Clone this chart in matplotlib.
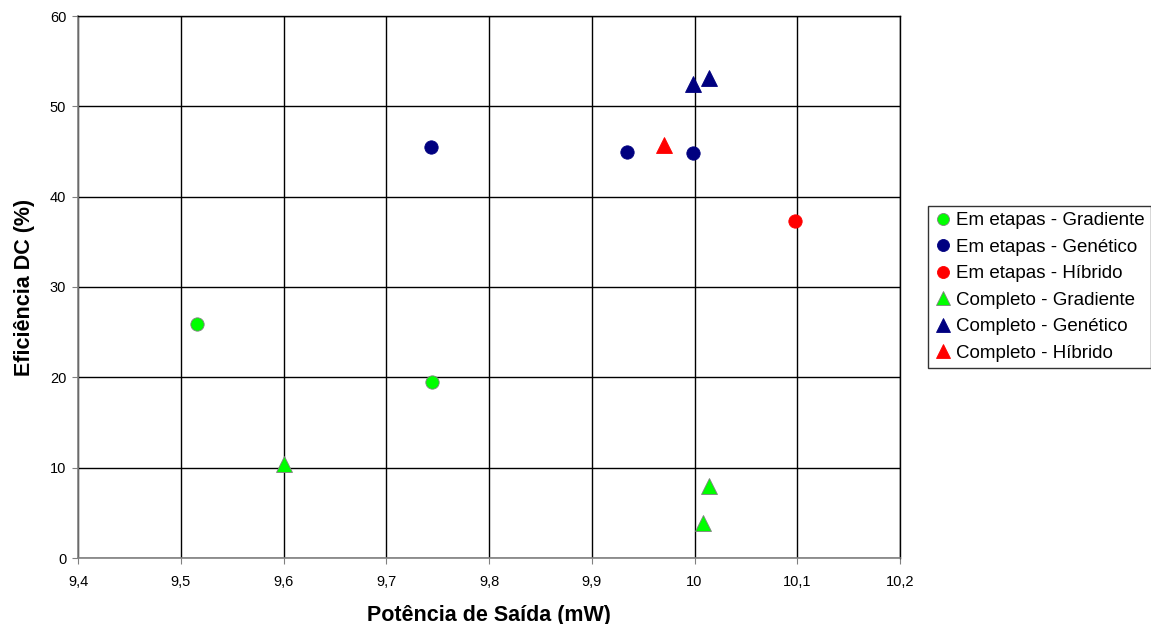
import matplotlib
matplotlib.use("Agg")
import matplotlib.pyplot as plt
from matplotlib.ticker import FuncFormatter

plt.rcParams["font.family"] = ["Liberation Sans", "DejaVu Sans"]

# series: (x = potência de saída em mW, y = eficiência DC em %)
etapas_grad_x = [9.516, 9.745]
etapas_grad_y = [25.9, 19.5]
etapas_gen_x = [9.744, 9.934, 9.999]
etapas_gen_y = [45.5, 45.0, 44.8]
etapas_hib_x = [10.098]
etapas_hib_y = [37.3]
comp_grad_x = [9.600, 10.014, 10.008]
comp_grad_y = [10.4, 8.0, 3.9]
comp_gen_x = [9.999, 10.014]
comp_gen_y = [52.5, 53.1]
comp_hib_x = [9.970]
comp_hib_y = [45.7]

series = [
    ("Em etapas - Gradiente", etapas_grad_x, etapas_grad_y, "o", "#00FF00"),
    ("Em etapas - Genético", etapas_gen_x, etapas_gen_y, "o", "#000080"),
    ("Em etapas - Híbrido", etapas_hib_x, etapas_hib_y, "o", "#FF0000"),
    ("Completo - Gradiente", comp_grad_x, comp_grad_y, "^", "#00FF00"),
    ("Completo - Genético", comp_gen_x, comp_gen_y, "^", "#000080"),
    ("Completo - Híbrido", comp_hib_x, comp_hib_y, "^", "#FF0000"),
]

fig = plt.figure(figsize=(11.51, 6.24), dpi=100)
ax = fig.add_axes([78 / 1151, 66 / 624, 822 / 1151, 542 / 624])

for label, xs, ys, mk, col in series:
    edge = "#808080" if col == "#00FF00" else col
    ax.plot(xs, ys, linestyle="none", marker=mk, markersize=9.6 if mk == "o" else 11.3,
            markerfacecolor=col, markeredgecolor=edge, markeredgewidth=0.6,
            label=label, zorder=3)

ax.set_xlim(9.4, 10.2)
ax.set_ylim(0, 60)
ax.set_xticks([9.4 + 0.1 * i for i in range(9)])
ax.set_yticks(range(0, 61, 10))
ax.xaxis.set_major_formatter(FuncFormatter(lambda v, p: f"{v:g}".replace(".", ",")))
ax.grid(True, color="black", linewidth=1)
ax.set_axisbelow(True)
for side in ("left", "bottom"):
    ax.spines[side].set_color("#808080")
    ax.spines[side].set_linewidth(1.2)
for side in ("top", "right"):
    ax.spines[side].set_color("black")
    ax.spines[side].set_linewidth(1)
ax.tick_params(direction="out", length=4.5, color="#808080", labelsize=10.5)
ax.tick_params(axis="x", pad=8)
ax.tick_params(axis="y", pad=4)

ax.set_xlabel("Potência de Saída (mW)", fontsize=15.5, fontweight="bold", labelpad=11)
ax.set_ylabel("Eficiência DC (%)", fontsize=15.5, fontweight="bold", labelpad=11)

leg = ax.legend(loc="center left", bbox_to_anchor=(928 / 1151, (624 - 287) / 624),
                bbox_transform=fig.transFigure, fontsize=13.5, frameon=True,
                fancybox=False, edgecolor="black", handlelength=0.9,
                handletextpad=0.25, labelspacing=0.5, borderpad=0.35,
                borderaxespad=0, markerscale=0.9)
leg.get_frame().set_linewidth(1)

fig.savefig("out.png", dpi=100)
